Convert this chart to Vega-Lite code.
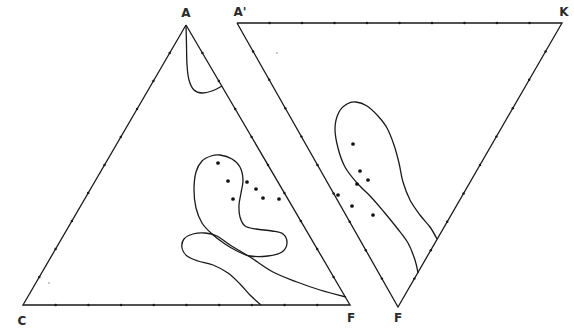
{
  "$schema": "https://vega.github.io/schema/vega-lite/v6.json",
  "width": 574,
  "height": 329,
  "autosize": {"type": "fit", "contains": "padding"},
  "padding": 0,
  "background": "white",
  "config": {"view": {"stroke": null}},
  "datasets": {
    "frames": [
      {"s": "ACF", "i": 0, "x": 186, "y": 25},
      {"s": "ACF", "i": 1, "x": 23, "y": 305},
      {"s": "ACF", "i": 2, "x": 350, "y": 305},
      {"s": "ACF", "i": 3, "x": 186, "y": 25},
      {"s": "AKF", "i": 0, "x": 237, "y": 23},
      {"s": "AKF", "i": 1, "x": 562, "y": 23},
      {"s": "AKF", "i": 2, "x": 398, "y": 307},
      {"s": "AKF", "i": 3, "x": 237, "y": 23}
    ],
    "closed": [
      {"s": "comma", "i": 0, "x": 220, "y": 155},
      {"s": "comma", "i": 1, "x": 232, "y": 159},
      {"s": "comma", "i": 2, "x": 240, "y": 167},
      {"s": "comma", "i": 3, "x": 243, "y": 180},
      {"s": "comma", "i": 4, "x": 241, "y": 193},
      {"s": "comma", "i": 5, "x": 239, "y": 205},
      {"s": "comma", "i": 6, "x": 240, "y": 217},
      {"s": "comma", "i": 7, "x": 245, "y": 226},
      {"s": "comma", "i": 8, "x": 256, "y": 229},
      {"s": "comma", "i": 9, "x": 272, "y": 231},
      {"s": "comma", "i": 10, "x": 283, "y": 234},
      {"s": "comma", "i": 11, "x": 287, "y": 243},
      {"s": "comma", "i": 12, "x": 282, "y": 252},
      {"s": "comma", "i": 13, "x": 268, "y": 256},
      {"s": "comma", "i": 14, "x": 250, "y": 256},
      {"s": "comma", "i": 15, "x": 237, "y": 251},
      {"s": "comma", "i": 16, "x": 225, "y": 244},
      {"s": "comma", "i": 17, "x": 212, "y": 234},
      {"s": "comma", "i": 18, "x": 202, "y": 223},
      {"s": "comma", "i": 19, "x": 196, "y": 208},
      {"s": "comma", "i": 20, "x": 194, "y": 190},
      {"s": "comma", "i": 21, "x": 196, "y": 172},
      {"s": "comma", "i": 22, "x": 202, "y": 161},
      {"s": "comma", "i": 23, "x": 211, "y": 156}
    ],
    "open": [
      {"s": "lobe", "i": 0, "x": 186, "y": 25},
      {"s": "lobe", "i": 1, "x": 186.5, "y": 45},
      {"s": "lobe", "i": 2, "x": 187, "y": 65},
      {"s": "lobe", "i": 3, "x": 189, "y": 80},
      {"s": "lobe", "i": 4, "x": 194, "y": 90},
      {"s": "lobe", "i": 5, "x": 202, "y": 93},
      {"s": "lobe", "i": 6, "x": 212, "y": 91},
      {"s": "lobe", "i": 7, "x": 222, "y": 86},
      {"s": "tongue", "i": 0, "x": 261, "y": 305},
      {"s": "tongue", "i": 1, "x": 250, "y": 295},
      {"s": "tongue", "i": 2, "x": 240, "y": 284},
      {"s": "tongue", "i": 3, "x": 228, "y": 273},
      {"s": "tongue", "i": 4, "x": 213, "y": 265},
      {"s": "tongue", "i": 5, "x": 198, "y": 261},
      {"s": "tongue", "i": 6, "x": 187, "y": 256},
      {"s": "tongue", "i": 7, "x": 182, "y": 248},
      {"s": "tongue", "i": 8, "x": 184, "y": 239},
      {"s": "tongue", "i": 9, "x": 193, "y": 234},
      {"s": "tongue", "i": 10, "x": 205, "y": 233},
      {"s": "tongue", "i": 11, "x": 217, "y": 236},
      {"s": "tongue", "i": 12, "x": 230, "y": 245},
      {"s": "tongue", "i": 13, "x": 250, "y": 257},
      {"s": "tongue", "i": 14, "x": 273, "y": 272},
      {"s": "tongue", "i": 15, "x": 297, "y": 282},
      {"s": "tongue", "i": 16, "x": 320, "y": 290},
      {"s": "tongue", "i": 17, "x": 346, "y": 297},
      {"s": "loop", "i": 0, "x": 418, "y": 273},
      {"s": "loop", "i": 1, "x": 415, "y": 260},
      {"s": "loop", "i": 2, "x": 408, "y": 243},
      {"s": "loop", "i": 3, "x": 397, "y": 228},
      {"s": "loop", "i": 4, "x": 384, "y": 212},
      {"s": "loop", "i": 5, "x": 371, "y": 197},
      {"s": "loop", "i": 6, "x": 357, "y": 183},
      {"s": "loop", "i": 7, "x": 345, "y": 167},
      {"s": "loop", "i": 8, "x": 338, "y": 148},
      {"s": "loop", "i": 9, "x": 335, "y": 128},
      {"s": "loop", "i": 10, "x": 339, "y": 112},
      {"s": "loop", "i": 11, "x": 347, "y": 104},
      {"s": "loop", "i": 12, "x": 356, "y": 102},
      {"s": "loop", "i": 13, "x": 367, "y": 106},
      {"s": "loop", "i": 14, "x": 378, "y": 116},
      {"s": "loop", "i": 15, "x": 387, "y": 128},
      {"s": "loop", "i": 16, "x": 394, "y": 145},
      {"s": "loop", "i": 17, "x": 399, "y": 163},
      {"s": "loop", "i": 18, "x": 403, "y": 182},
      {"s": "loop", "i": 19, "x": 410, "y": 200},
      {"s": "loop", "i": 20, "x": 420, "y": 215},
      {"s": "loop", "i": 21, "x": 430, "y": 227},
      {"s": "loop", "i": 22, "x": 437, "y": 239}
    ],
    "ticks": [
      {"x": 169.7, "y": 53}, {"x": 153.4, "y": 81}, {"x": 137.1, "y": 109},
      {"x": 120.8, "y": 137}, {"x": 104.5, "y": 165}, {"x": 88.2, "y": 193},
      {"x": 71.9, "y": 221}, {"x": 55.6, "y": 249}, {"x": 39.3, "y": 277},
      {"x": 55.7, "y": 305}, {"x": 88.4, "y": 305}, {"x": 121.1, "y": 305},
      {"x": 153.8, "y": 305}, {"x": 186.5, "y": 305}, {"x": 219.2, "y": 305},
      {"x": 251.9, "y": 305}, {"x": 284.6, "y": 305}, {"x": 317.3, "y": 305},
      {"x": 202.4, "y": 53}, {"x": 218.8, "y": 81}, {"x": 235.2, "y": 109},
      {"x": 251.6, "y": 137}, {"x": 268, "y": 165}, {"x": 284.4, "y": 193},
      {"x": 300.8, "y": 221}, {"x": 317.2, "y": 249}, {"x": 333.6, "y": 277},
      {"x": 269.5, "y": 23}, {"x": 302, "y": 23}, {"x": 334.5, "y": 23},
      {"x": 367, "y": 23}, {"x": 399.5, "y": 23}, {"x": 432, "y": 23},
      {"x": 464.5, "y": 23}, {"x": 497, "y": 23}, {"x": 529.5, "y": 23},
      {"x": 253.1, "y": 51.4}, {"x": 269.2, "y": 79.8}, {"x": 285.3, "y": 108.2},
      {"x": 301.4, "y": 136.6}, {"x": 317.5, "y": 165}, {"x": 333.6, "y": 193.4},
      {"x": 349.7, "y": 221.8}, {"x": 365.8, "y": 250.2}, {"x": 381.9, "y": 278.6},
      {"x": 545.6, "y": 51.4}, {"x": 529.2, "y": 79.8}, {"x": 512.8, "y": 108.2},
      {"x": 496.4, "y": 136.6}, {"x": 480, "y": 165}, {"x": 463.6, "y": 193.4},
      {"x": 447.2, "y": 221.8}, {"x": 430.8, "y": 250.2}, {"x": 414.4, "y": 278.6}
    ],
    "dots": [
      {"x": 218, "y": 163}, {"x": 228, "y": 181}, {"x": 233, "y": 199},
      {"x": 247, "y": 182}, {"x": 256, "y": 189}, {"x": 263, "y": 198},
      {"x": 279, "y": 199},
      {"x": 353, "y": 144}, {"x": 360, "y": 171}, {"x": 368, "y": 180},
      {"x": 357, "y": 184}, {"x": 338, "y": 195}, {"x": 352, "y": 206},
      {"x": 373, "y": 215}
    ],
    "specks": [
      {"x": 49, "y": 283}, {"x": 277, "y": 53}
    ],
    "labels": [
      {"t": "A", "x": 186, "y": 13},
      {"t": "A'", "x": 240, "y": 12},
      {"t": "K", "x": 564, "y": 12},
      {"t": "C", "x": 22, "y": 321},
      {"t": "F", "x": 351, "y": 318},
      {"t": "F", "x": 398, "y": 318}
    ]
  },
  "layer": [
    {
      "data": {"name": "frames"},
      "mark": {"type": "line", "stroke": "#1a1a1a", "strokeWidth": 1.3},
      "encoding": {
        "x": {"field": "x", "type": "quantitative", "scale": {"domain": [0, 574], "nice": false, "zero": false}, "axis": null},
        "y": {"field": "y", "type": "quantitative", "scale": {"domain": [0, 329], "nice": false, "zero": false, "reverse": true}, "axis": null},
        "detail": {"field": "s"},
        "order": {"field": "i"}
      }
    },
    {
      "data": {"name": "closed"},
      "mark": {"type": "line", "stroke": "#1a1a1a", "strokeWidth": 1.3, "interpolate": "cardinal-closed"},
      "encoding": {
        "x": {"field": "x", "type": "quantitative", "scale": {"domain": [0, 574], "nice": false, "zero": false}, "axis": null},
        "y": {"field": "y", "type": "quantitative", "scale": {"domain": [0, 329], "nice": false, "zero": false, "reverse": true}, "axis": null},
        "detail": {"field": "s"},
        "order": {"field": "i"}
      }
    },
    {
      "data": {"name": "open"},
      "mark": {"type": "line", "stroke": "#1a1a1a", "strokeWidth": 1.3, "interpolate": "cardinal"},
      "encoding": {
        "x": {"field": "x", "type": "quantitative", "scale": {"domain": [0, 574], "nice": false, "zero": false}, "axis": null},
        "y": {"field": "y", "type": "quantitative", "scale": {"domain": [0, 329], "nice": false, "zero": false, "reverse": true}, "axis": null},
        "detail": {"field": "s"},
        "order": {"field": "i"}
      }
    },
    {
      "data": {"name": "ticks"},
      "mark": {"type": "point", "filled": true, "size": 6, "color": "#1a1a1a", "opacity": 1},
      "encoding": {
        "x": {"field": "x", "type": "quantitative", "scale": {"domain": [0, 574], "nice": false, "zero": false}, "axis": null},
        "y": {"field": "y", "type": "quantitative", "scale": {"domain": [0, 329], "nice": false, "zero": false, "reverse": true}, "axis": null}
      }
    },
    {
      "data": {"name": "dots"},
      "mark": {"type": "circle", "size": 14, "color": "#111111", "opacity": 1},
      "encoding": {
        "x": {"field": "x", "type": "quantitative", "scale": {"domain": [0, 574], "nice": false, "zero": false}, "axis": null},
        "y": {"field": "y", "type": "quantitative", "scale": {"domain": [0, 329], "nice": false, "zero": false, "reverse": true}, "axis": null}
      }
    },
    {
      "data": {"name": "specks"},
      "mark": {"type": "circle", "size": 3, "color": "#9a9a9a", "opacity": 1},
      "encoding": {
        "x": {"field": "x", "type": "quantitative", "scale": {"domain": [0, 574], "nice": false, "zero": false}, "axis": null},
        "y": {"field": "y", "type": "quantitative", "scale": {"domain": [0, 329], "nice": false, "zero": false, "reverse": true}, "axis": null}
      }
    },
    {
      "data": {"name": "labels"},
      "mark": {"type": "text", "font": "DejaVu Sans", "fontSize": 12, "fontWeight": "bold", "color": "#2a2a2a", "align": "center", "baseline": "middle"},
      "encoding": {
        "x": {"field": "x", "type": "quantitative", "scale": {"domain": [0, 574], "nice": false, "zero": false}, "axis": null},
        "y": {"field": "y", "type": "quantitative", "scale": {"domain": [0, 329], "nice": false, "zero": false, "reverse": true}, "axis": null},
        "text": {"field": "t"}
      }
    }
  ]
}
